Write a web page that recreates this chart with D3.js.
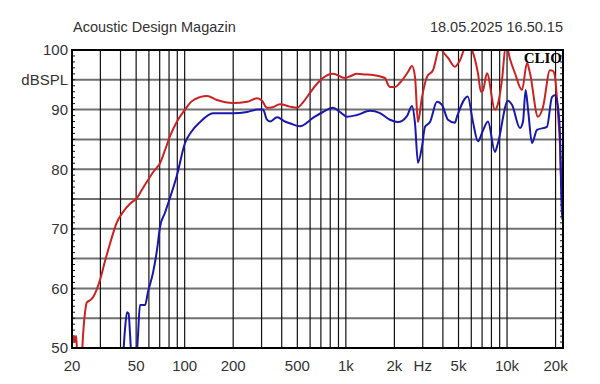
<!DOCTYPE html>
<html>
<head>
<meta charset="utf-8">
<script src="https://cdn.jsdelivr.net/npm/d3@7"></script>
<style>
    body { margin: 0; background: #fff; }
    text { font-family: "Liberation Sans", Arial, sans-serif; }
</style>
</head>
<body>
<div id="chart"></div>
<script>
// Measured response, [frequency Hz, dB SPL].
var redCurve = [
    [20, 50.5], [20.4, 52], [20.87, 51], [21.2, 52], [21.6, 49], [22.4, 48.5], [23.1, 49.5],
    [23.4, 52], [24.1, 56], [24.77, 57.7], [25.85, 58], [26.98, 58.5], [29.83, 61.4],
    [32, 64.5], [34.4, 67.5], [38, 71.1], [41.4, 72.8], [45.8, 74.2], [50.6, 75.2],
    [54.2, 76.5], [59.2, 78.2], [64.5, 79.7], [70.3, 81], [75.5, 83.2], [81, 85.5],
    [89.6, 88], [100.5, 90], [109.5, 91.3], [124.5, 92.1], [137.6, 92.3], [158.7, 91.6],
    [199, 91.1], [244, 91.3], [281, 91.9], [302, 91.5], [324, 90.3], [350, 90.4],
    [390, 90.9], [450, 90.5], [498, 90.3], [545, 91.3], [599, 92.8], [660, 94.3],
    [721, 95.3], [832, 96], [988, 95.3], [1065, 95.6], [1172, 96], [1318, 95.9],
    [1474, 95.8], [1749, 95.3], [1826, 94.2], [1878, 93.8], [2020, 93.8], [2166, 94.5],
    [2429, 96.3], [2572, 97.3], [2685, 95.5], [2802, 87.9], [2967, 92.1], [3187, 95.5],
    [3472, 96.6], [3836, 100.5], [4004, 99.7], [4300, 98.7], [4752, 97.2], [5105, 98.3],
    [5641, 101], [6060, 100], [6601, 96.1], [6890, 93], [7090, 93.2], [7505, 96.1],
    [8416, 90], [8785, 91], [9303, 95], [9849, 101], [10428, 98.5], [11200, 96.1],
    [12380, 93.3], [13300, 97.8], [13883, 96.1], [15556, 88.8], [16707, 90.4],
    [18465, 96.6], [19274, 96.5], [19831, 95.5], [20700, 89.4], [21300, 84],
    [21760, 77], [22240, 77]
];

var blueCurve = [
    [41.4, 48], [42.6, 53], [43.9, 56], [44.9, 55.8], [45.9, 52], [46.9, 48], [50, 48],
    [51.3, 52], [52.8, 57.2], [56.8, 57.2], [59.2, 59.4], [63.6, 62.6], [67.4, 66.5],
    [70.3, 70.3], [75.5, 72.7], [81.1, 75.2], [89.6, 79], [100.5, 84.4], [109.5, 86.2],
    [124.5, 87.9], [149.9, 89.4], [199.4, 89.4], [243.7, 89.6], [281, 90], [306, 90],
    [324, 88.3], [338, 88], [374, 88.7], [419, 88], [450, 87.7], [519, 87.2], [625, 88.6],
    [721, 89.6], [832, 90.3], [920, 89.6], [1017, 88.8], [1172, 89.1], [1412, 89.8],
    [1629, 89.4], [1878, 88.3], [2106, 87.9], [2394, 88.9], [2572, 90.6], [2685, 87.7],
    [2802, 81.1], [2967, 83.8], [3097, 87.1], [3326, 87.9], [3675, 91.3], [3948, 90.8],
    [4300, 88.3], [4752, 87.8], [4890, 88.8], [5705, 92.2], [6148, 87.9], [6601, 84.7],
    [7090, 86.5], [7613, 88], [8416, 82.9], [8785, 84.4], [10134, 91.5], [10730, 90.8],
    [12032, 86.9], [12560, 88], [13040, 93.3], [13500, 90], [14285, 84.4], [15337, 86.6],
    [17690, 87.1], [19000, 92.1], [19831, 92.4], [20700, 90.4], [21300, 86],
    [21920, 71.5], [22240, 72]
];

// Axis labels.
var freqLabels = [20, 50, 100, 200, 500, 1000, 2000, 5000, 10000, 20000];
var dbLabels = [50, 60, 70, 80, 90, 100];
var title = 'Acoustic Design Magazin';
var stamp = '18.05.2025 16.50.15';

function drawChart() {
    var W = 600, H = 384;
    var pl = 72, pr = 563, pt = 50, pb = 348;

    var x = d3.scaleLog().domain([20, 22240]).range([pl, pr]);
    var y = d3.scaleLinear().domain([50, 100]).range([pb, pt]);

    var svg = d3.select('#chart').append('svg')
        .attr('width', W)
        .attr('height', H);

    svg.append('clipPath').attr('id', 'plot')
        .append('rect')
        .attr('x', pl).attr('y', pt)
        .attr('width', pr - pl).attr('height', pb - pt);

    // Horizontal grid every 5 dB.
    svg.append('g').selectAll('line')
        .data(d3.range(55, 100, 5))
        .enter().append('line')
        .attr('x1', pl).attr('x2', pr)
        .attr('y1', d => y(d)).attr('y2', d => y(d))
        .attr('stroke', '#707070')
        .attr('stroke-width', 2);

    // Vertical grid 1..9 per decade.
    var gridFreqs = [];
    [10, 100, 1000, 10000].forEach(function(dec) {
        for (var k = 1; k <= 9; k++) {
            var f = dec * k;
            if (f > 20 && f <= 20000) gridFreqs.push(f);
        }
    });

    svg.append('g').selectAll('line')
        .data(gridFreqs)
        .enter().append('line')
        .attr('x1', d => x(d)).attr('x2', d => x(d))
        .attr('y1', pt).attr('y2', pb)
        .attr('stroke', '#111')
        .attr('stroke-width', 1.2);

    // Minor dB ticks on both sides.
    var minor = d3.range(51, 100, 1);
    svg.append('g').selectAll('line')
        .data(minor)
        .enter().append('line')
        .attr('x1', pl).attr('x2', pl + 3)
        .attr('y1', d => y(d)).attr('y2', d => y(d))
        .attr('stroke', '#111');
    svg.append('g').selectAll('line')
        .data(minor)
        .enter().append('line')
        .attr('x1', pr - 3).attr('x2', pr)
        .attr('y1', d => y(d)).attr('y2', d => y(d))
        .attr('stroke', '#111');

    // Curves.
    var line = d3.line()
        .x(d => x(d[0]))
        .y(d => y(d[1]))
        .curve(d3.curveMonotoneX);

    var curves = svg.append('g').attr('clip-path', 'url(#plot)');
    curves.append('path')
        .attr('d', line(redCurve))
        .attr('fill', 'none')
        .attr('stroke', '#cc2222')
        .attr('stroke-width', 2);
    curves.append('path')
        .attr('d', line(blueCurve))
        .attr('fill', 'none')
        .attr('stroke', '#1818b0')
        .attr('stroke-width', 2);

    // Frame.
    svg.append('rect')
        .attr('x', pl).attr('y', pt)
        .attr('width', pr - pl).attr('height', pb - pt)
        .attr('fill', 'none')
        .attr('stroke', '#000')
        .attr('stroke-width', 2);

    // CLIO badge.
    svg.append('text')
        .attr('x', pr - 1).attr('y', 63)
        .attr('text-anchor', 'end')
        .style('font-family', '"Liberation Serif", "Times New Roman", serif')
        .style('font-weight', 'bold')
        .style('font-size', '15px')
        .attr('fill', '#000')
        .text('CLIO');

    // Y labels.
    svg.append('g').selectAll('text')
        .data(dbLabels)
        .enter().append('text')
        .attr('x', pl - 4)
        .attr('y', d => y(d))
        .attr('dy', '0.36em')
        .attr('text-anchor', 'end')
        .style('font-size', '15px')
        .attr('fill', '#333')
        .text(d => d);

    svg.append('text')
        .attr('x', pl - 4).attr('y', y(95))
        .attr('dy', '0.36em')
        .attr('text-anchor', 'end')
        .style('font-size', '15px')
        .attr('fill', '#333')
        .text('dBSPL');

    // X labels.
    function fmt(f) { return f >= 1000 ? (f / 1000) + 'k' : String(f); }

    svg.append('g').selectAll('text')
        .data(freqLabels)
        .enter().append('text')
        .attr('x', d => x(d))
        .attr('y', 371)
        .attr('text-anchor', 'middle')
        .style('font-size', '15px')
        .attr('fill', '#333')
        .text(fmt);

    svg.append('text')
        .attr('x', x(3000)).attr('y', 371)
        .attr('text-anchor', 'middle')
        .style('font-size', '15px')
        .attr('fill', '#333')
        .text('Hz');

    // Header.
    svg.append('text')
        .attr('x', 73).attr('y', 32)
        .style('font-size', '14.5px')
        .attr('fill', '#333')
        .text(title);

    svg.append('text')
        .attr('x', pr).attr('y', 32)
        .attr('text-anchor', 'end')
        .style('font-size', '14.5px')
        .attr('fill', '#333')
        .text(stamp);
}

drawChart();
</script>
</body>
</html>
